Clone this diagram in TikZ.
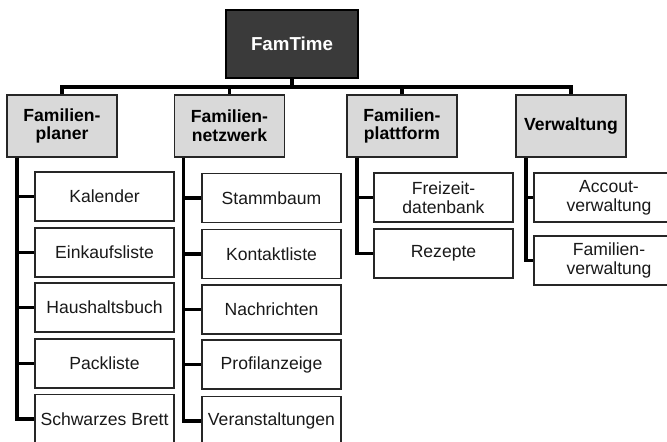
\documentclass[tikz,border=0pt]{standalone}
\usepackage{fontspec}
\setmainfont{Liberation Sans}
\definecolor{rootgray}{HTML}{3A3A3A}
\definecolor{areagray}{HTML}{D9D9D9}
\begin{document}
\begin{tikzpicture}[x=0.03cm,y=-0.03cm]
\tikzstyle{root} = [rectangle, draw=black, fill=rootgray, line width=1.4pt, minimum width=3.96cm, minimum height=2.04cm, text=white, font=\fontsize{16}{17}\selectfont\bfseries]
\tikzstyle{area} = [rectangle, draw=black!85, fill=areagray, line width=1.4pt, minimum width=3.3cm, minimum height=1.86cm, align=center, font=\fontsize{15}{16}\selectfont\bfseries]
\tikzstyle{item} = [rectangle, draw=black!85, fill=white, line width=1.2pt, minimum width=4.17cm, minimum height=1.47cm, align=center, text=black!90, font=\fontsize{15}{16}\selectfont]
\tikzstyle{link} = [line width=3pt]
\clip (0,0) rectangle (667,441);
\node (root) [root] at (292,44) {FamTime};
\coordinate (bus) at (292,87);
\node (planer) [area] at (62,126) {Familien-\\planer};
\node (netz) [area] at (229.5,126) {Familien-\\netzwerk};
\node (platt) [area] at (402,126) {Familien-\\plattform};
\node (verw) [area] at (571,126) {Verwaltung};
% Familienplaner
\node (kal) [item] at (104.5,196.5) {Kalender};
\node (eink) [item] at (104.5,252.5) {Einkaufsliste};
\node (haus) [item] at (104.5,307.5) {Haushaltsbuch};
\node (pack) [item] at (104.5,363.5) {Packliste};
\node (brett) [item] at (104.5,419) {Schwarzes Brett};
% Familiennetzwerk
\node (stamm) [item] at (271.5,198) {Stammbaum};
\node (kont) [item] at (271.5,254) {Kontaktliste};
\node (nach) [item] at (271.5,309.5) {Nachrichten};
\node (prof) [item] at (271.5,364.5) {Profilanzeige};
\node (vera) [item] at (271.5,421) {Veranstaltungen};
% Familienplattform
\node (frei) [item] at (443.5,197.5) {Freizeit-\\datenbank};
\node (rez) [item] at (443.5,253.5) {Rezepte};
% Verwaltung
\node (acc) [item, minimum width=4.5cm] at (609,197.5) {Accout-\\verwaltung};
\node (famv) [item, minimum width=4.5cm] at (609,260.5) {Familien-\\verwaltung};
\foreach \a in {planer,netz,platt,verw}
  \draw [link] (root.south) -- (root.south |- bus) -| (\a.north);
\foreach \c in {kal,eink,haus,pack,brett}
  \draw [link] ([xshift=0.33cm]planer.south west) |- (\c.west);
\foreach \c in {stamm,kont,nach,prof,vera}
  \draw [link] ([xshift=0.3cm]netz.south west) |- (\c.west);
\foreach \c in {frei,rez}
  \draw [link] ([xshift=0.33cm]platt.south west) |- (\c.west);
\foreach \c in {acc,famv}
  \draw [link] ([xshift=0.33cm]verw.south west) |- (\c.west);
\end{tikzpicture}
\end{document}
